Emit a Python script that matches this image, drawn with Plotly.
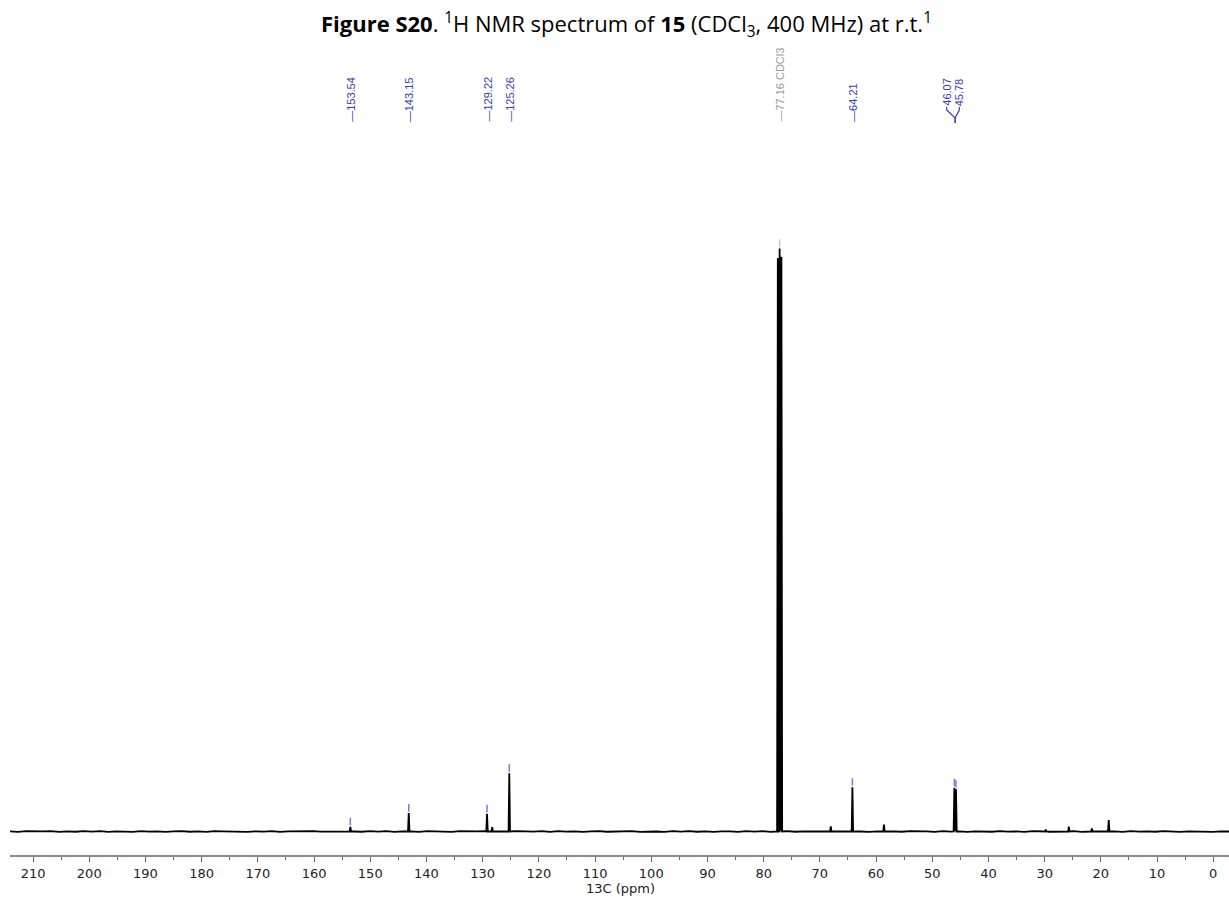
import numpy as np
import plotly.graph_objects as go

# ---------------- data ----------------
peak_ppm = [153.54, 143.15, 129.22, 128.30, 125.26, 77.48, 77.16, 76.84,
            68.06, 64.21, 58.60, 46.07, 45.78, 29.80, 25.70, 21.60, 18.60]
peak_int = [0.80, 3.15, 3.05, 0.75, 10.0, 98.4, 100.0, 98.6,
            0.90, 7.60, 1.20, 7.50, 7.30, 0.35, 0.85, 0.50, 1.95]

# hand-estimated baseline fuzz (relative intensity units)
noise = [0.03, -0.05, 0.06, -0.02, 0.01, 0.07, -0.06, 0.02, -0.04, 0.05,
         -0.01, 0.06, -0.07, 0.04, 0.00, -0.05, 0.08, -0.02, 0.04, -0.06,
         0.02, 0.06, -0.04, 0.01, -0.07, 0.05, 0.02, -0.01, 0.07, -0.05,
         0.04, -0.02, 0.06, -0.06, 0.01, 0.05, -0.04, 0.07, -0.01, 0.02,
         -0.06, 0.04, 0.00, -0.04, 0.06, -0.02, 0.05, -0.07, 0.02, 0.01,
         -0.05, 0.06, -0.01, 0.04, -0.06, 0.07, -0.02, 0.01, 0.05, -0.04,
         0.02, -0.07, 0.06, 0.00, -0.02, 0.05, -0.05, 0.07, -0.01, 0.04,
         -0.06, 0.02, 0.06, -0.04, 0.01, -0.02, 0.07, -0.05, 0.04, 0.00,
         -0.06, 0.05, -0.01, 0.06, -0.04, 0.02, -0.07, 0.04, 0.01, -0.05,
         0.06, -0.02, 0.05, -0.06, 0.02, 0.07, -0.04, 0.01, -0.01, 0.05,
         -0.06, 0.04, -0.02, 0.06, 0.00, -0.05, 0.04, -0.01, 0.02, -0.04,
         0.05, -0.03, 0.02, -0.05, 0.06, -0.02, 0.03, -0.06, 0.04, 0.01,
         -0.04, 0.06, -0.03, 0.02, -0.05, 0.05, 0.00, -0.04, 0.03, -0.02,
         0.05, -0.06, 0.02, 0.04, -0.03, 0.01, -0.05, 0.06, -0.02, 0.03,
         -0.04, 0.05, 0.01, -0.06, 0.03, -0.01, 0.04, -0.05, 0.02, 0.00]

label_ppm = [153.54, 143.15, 129.22, 125.26, 64.21]
label_txt = ["153.54", "143.15", "129.22", "125.26", "64.21"]
label_h = [0.80, 3.15, 3.05, 10.0, 7.60]
solvent_ppm = 77.16
solvent_txt = "77.16 CDCl3"
pair_ppm = [46.07, 45.78]
pair_txt = ["46.07", "45.78"]
pair_h = [7.50, 7.30]

x_ticks = list(range(0, 220, 10))

# ---------------- geometry helpers ----------------
X_LEFT, X_RIGHT = 214.1, -2.8
Y_BOT, Y_TOP = -4.03, 137.5
PLOT_TOP_PX, PLOT_BOT_PX = 30, 855


def py_to_y(py):
    return Y_BOT + (PLOT_BOT_PX - py) / (PLOT_BOT_PX - PLOT_TOP_PX) * (Y_TOP - Y_BOT)


def px_to_ppm(px):
    return X_LEFT + (px - 10) / (1229 - 10) * (X_RIGHT - X_LEFT)


# ---------------- spectrum trace ----------------
base_ppm = np.linspace(X_LEFT, X_RIGHT, len(noise))
pts = []
for p, v in zip(base_ppm, noise):
    if min(abs(p - q) for q in peak_ppm) > 0.35:
        pts.append((p, v))
for p, h in zip(peak_ppm, peak_int):
    pts += [(p + 0.13, 0.0), (p, h), (p - 0.13, 0.0)]
pts.sort(key=lambda t: -t[0])
sx = [t[0] for t in pts]
sy = [t[1] for t in pts]

fig = go.Figure()
fig.add_trace(go.Scatter(x=sx, y=sy, mode="lines",
                         line=dict(color="black", width=1.8),
                         hoverinfo="skip", showlegend=False))

# small peak markers above labelled peaks
mk_x, mk_y = [], []
for p, h in zip(label_ppm + pair_ppm, label_h + pair_h):
    mk_x += [p, p, None]
    mk_y += [h + 0.25, h + 1.55, None]
fig.add_trace(go.Scatter(x=mk_x, y=mk_y, mode="lines",
                         line=dict(color="#7a7ad8", width=1.5),
                         hoverinfo="skip", showlegend=False))
fig.add_trace(go.Scatter(x=[solvent_ppm, solvent_ppm], y=[100.2, 101.6], mode="lines",
                         line=dict(color="#c8c8c8", width=1.5),
                         hoverinfo="skip", showlegend=False))

annotations = []
LBL_COLOR = "#3a3ab0"
y_lbl = py_to_y(123)
for p, t in zip(label_ppm, label_txt):
    annotations.append(dict(x=p, y=y_lbl, xref="x", yref="y", text="\u2014" + t,
                            textangle=-90, showarrow=False, xanchor="center", yanchor="bottom",
                            font=dict(family="Liberation Sans", size=11, color=LBL_COLOR),
                            borderpad=0))
annotations.append(dict(x=solvent_ppm, y=y_lbl, xref="x", yref="y", text="\u2014" + solvent_txt,
                        textangle=-90, showarrow=False, xanchor="center", yanchor="bottom",
                        font=dict(family="Liberation Sans", size=11, color="#9a9a9a"),
                        borderpad=0))
# pair labels with bracket
pair_px = [946.7, 959.3]
for px, t in zip(pair_px, pair_txt):
    annotations.append(dict(x=px_to_ppm(px), y=py_to_y(107), xref="x", yref="y", text=t,
                            textangle=-90, showarrow=False, xanchor="center", yanchor="bottom",
                            font=dict(family="Liberation Sans", size=11, color=LBL_COLOR),
                            borderpad=0))
br_x, br_y = [], []
mid = sum(pair_ppm) / 2
for px in pair_px:
    br_x += [px_to_ppm(px), px_to_ppm(px), mid, mid, None]
    br_y += [py_to_y(107), py_to_y(110), py_to_y(118), py_to_y(123), None]
fig.add_trace(go.Scatter(x=br_x, y=br_y, mode="lines",
                         line=dict(color=LBL_COLOR, width=1.2),
                         hoverinfo="skip", showlegend=False))

# title
annotations.append(dict(
    x=(626 - 10) / 1219, y=(855 - 25) / 825, xref="paper", yref="paper",
    text="<b>Figure S20</b>. <sup>1</sup>H NMR spectrum of <b>15</b> (CDCl<sub>3</sub>, 400 MHz) at r.t.<sup>1</sup>",
    showarrow=False, xanchor="center", yanchor="middle",
    font=dict(family="Open Sans", size=22, color="black")))
# axis title
annotations.append(dict(
    x=(620 - 10) / 1219, y=(855 - 888) / 825, xref="paper", yref="paper",
    text="13C (ppm)", showarrow=False, xanchor="center", yanchor="middle",
    font=dict(family="DejaVu Sans", size=13, color="#222222")))

fig.update_layout(
    width=1229, height=899,
    margin=dict(l=10, r=0, t=PLOT_TOP_PX, b=899 - PLOT_BOT_PX),
    paper_bgcolor="white", plot_bgcolor="white",
    showlegend=False,
    annotations=annotations,
    xaxis=dict(range=[X_LEFT, X_RIGHT], tickvals=x_ticks, ticktext=[str(v) for v in x_ticks],
               showgrid=False, zeroline=False, showline=True, linecolor="#8c8c8c", linewidth=2,
               ticks="outside", ticklen=5, tickwidth=1.2, tickcolor="#666666",
               minor=dict(dtick=5, tick0=0, ticks="outside", ticklen=3, tickcolor="#666666", tickwidth=1),
               tickfont=dict(family="DejaVu Sans", size=13, color="#222222")),
    yaxis=dict(range=[Y_BOT, Y_TOP], visible=False, showgrid=False, zeroline=False),
)

fig.write_html("out.html")
